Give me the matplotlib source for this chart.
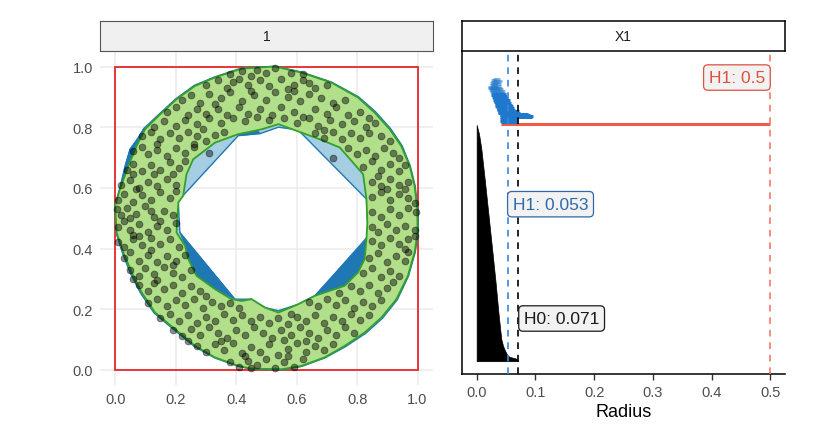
import numpy as np
import matplotlib
matplotlib.use('Agg')
import matplotlib.pyplot as plt
from matplotlib.path import Path
from matplotlib.patches import PathPatch, Polygon, Rectangle

plt.rcParams['font.family'] = ['Liberation Sans', 'DejaVu Sans']

# ---- left panel data: sampled ring points and the two shape outlines ----
ring_pts = np.array([
    (0.42, 0.985), (0.47, 0.99), (0.53, 0.995), (0.58, 0.98), (0.38, 0.975), (0.62, 0.975), (0.50, 0.98), (0.45, 0.97),
    (0.30, 0.94), (0.34, 0.955), (0.37, 0.93), (0.41, 0.96), (0.44, 0.94), (0.48, 0.955), (0.51, 0.935), (0.55, 0.96),
    (0.59, 0.94), (0.62, 0.955), (0.66, 0.93), (0.70, 0.94), (0.39, 0.95), (0.57, 0.925), (0.64, 0.945),
    (0.22, 0.89), (0.25, 0.905), (0.28, 0.88), (0.31, 0.91), (0.35, 0.895), (0.38, 0.915), (0.42, 0.885), (0.46, 0.905),
    (0.50, 0.89), (0.53, 0.915), (0.57, 0.90), (0.61, 0.885), (0.64, 0.91), (0.68, 0.895), (0.72, 0.88), (0.76, 0.89),
    (0.33, 0.875), (0.59, 0.92), (0.45, 0.92),
    (0.17, 0.85), (0.20, 0.865), (0.24, 0.84), (0.27, 0.86), (0.30, 0.845), (0.34, 0.86), (0.37, 0.84), (0.41, 0.865),
    (0.44, 0.845), (0.48, 0.86), (0.52, 0.84), (0.55, 0.865), (0.59, 0.85), (0.62, 0.835), (0.66, 0.86), (0.70, 0.845),
    (0.73, 0.865), (0.77, 0.84), (0.81, 0.85), (0.84, 0.83),
    (0.13, 0.80), (0.16, 0.82), (0.20, 0.805), (0.23, 0.825), (0.27, 0.81), (0.31, 0.83), (0.35, 0.815), (0.39, 0.83),
    (0.43, 0.82), (0.47, 0.835), (0.51, 0.825), (0.56, 0.83), (0.60, 0.815), (0.64, 0.83), (0.67, 0.805), (0.71, 0.825),
    (0.75, 0.81), (0.79, 0.82), (0.83, 0.80), (0.86, 0.815), (0.29, 0.795), (0.69, 0.79),
    (0.09, 0.77), (0.12, 0.785), (0.15, 0.76), (0.18, 0.78), (0.21, 0.765), (0.24, 0.785), (0.27, 0.77), (0.30, 0.755),
    (0.33, 0.775), (0.36, 0.785), (0.66, 0.78), (0.69, 0.765), (0.72, 0.785), (0.75, 0.76), (0.78, 0.78), (0.81, 0.765),
    (0.84, 0.78), (0.88, 0.77), (0.91, 0.755), (0.14, 0.745), (0.26, 0.745),
    (0.06, 0.72), (0.09, 0.735), (0.11, 0.71), (0.14, 0.725), (0.17, 0.705), (0.20, 0.73), (0.23, 0.715), (0.26, 0.735),
    (0.77, 0.73), (0.80, 0.71), (0.83, 0.725), (0.86, 0.705), (0.89, 0.73), (0.92, 0.715), (0.94, 0.70), (0.31, 0.715),
    (0.72, 0.70),
    (0.04, 0.66), (0.06, 0.68), (0.09, 0.655), (0.12, 0.675), (0.15, 0.66), (0.18, 0.685), (0.21, 0.665), (0.23, 0.69),
    (0.82, 0.67), (0.85, 0.69), (0.88, 0.66), (0.91, 0.68), (0.94, 0.655), (0.96, 0.675), (0.13, 0.645), (0.87, 0.64),
    (0.02, 0.61), (0.05, 0.625), (0.08, 0.60), (0.11, 0.62), (0.14, 0.605), (0.17, 0.63), (0.20, 0.61), (0.85, 0.62),
    (0.88, 0.605), (0.91, 0.63), (0.94, 0.61), (0.97, 0.62), (0.06, 0.645), (0.19, 0.645), (0.90, 0.595),
    (0.01, 0.56), (0.03, 0.58), (0.06, 0.555), (0.09, 0.575), (0.12, 0.56), (0.15, 0.585), (0.18, 0.565), (0.20, 0.59),
    (0.85, 0.57), (0.88, 0.585), (0.91, 0.56), (0.94, 0.58), (0.97, 0.565), (0.99, 0.55), (0.07, 0.595), (0.96, 0.595),
    (0.005, 0.53), (0.02, 0.51), (0.04, 0.535), (0.07, 0.515), (0.10, 0.54), (0.13, 0.505), (0.16, 0.525), (0.19, 0.51),
    (0.85, 0.52), (0.88, 0.505), (0.91, 0.53), (0.94, 0.51), (0.97, 0.535), (0.995, 0.52), (0.05, 0.50), (0.12, 0.525),
    (0.01, 0.47), (0.03, 0.49), (0.05, 0.46), (0.08, 0.48), (0.11, 0.455), (0.14, 0.475), (0.17, 0.46), (0.20, 0.485),
    (0.85, 0.47), (0.87, 0.455), (0.90, 0.48), (0.93, 0.46), (0.96, 0.475), (0.99, 0.46), (0.06, 0.445), (0.15, 0.49),
    (0.01, 0.42), (0.03, 0.405), (0.06, 0.43), (0.09, 0.41), (0.12, 0.435), (0.15, 0.415), (0.18, 0.43), (0.21, 0.405),
    (0.85, 0.425), (0.88, 0.41), (0.91, 0.435), (0.94, 0.415), (0.97, 0.43), (0.99, 0.44), (0.08, 0.44), (0.96, 0.40),
    (0.03, 0.37), (0.05, 0.39), (0.08, 0.36), (0.11, 0.38), (0.14, 0.355), (0.17, 0.375), (0.20, 0.36), (0.23, 0.38),
    (0.84, 0.37), (0.87, 0.385), (0.90, 0.355), (0.93, 0.375), (0.96, 0.36), (0.97, 0.39), (0.12, 0.395), (0.19, 0.345),
    (0.05, 0.33), (0.08, 0.31), (0.10, 0.335), (0.13, 0.315), (0.16, 0.34), (0.19, 0.32), (0.22, 0.305), (0.25, 0.33),
    (0.82, 0.32), (0.85, 0.335), (0.88, 0.305), (0.91, 0.325), (0.94, 0.31), (0.06, 0.30), (0.14, 0.295),
    (0.08, 0.28), (0.11, 0.26), (0.13, 0.285), (0.16, 0.265), (0.19, 0.28), (0.22, 0.255), (0.25, 0.275), (0.28, 0.26),
    (0.78, 0.275), (0.81, 0.26), (0.84, 0.28), (0.87, 0.255), (0.90, 0.27), (0.92, 0.29), (0.30, 0.245), (0.74, 0.255),
    (0.11, 0.22), (0.14, 0.235), (0.17, 0.21), (0.20, 0.23), (0.23, 0.215), (0.26, 0.235), (0.29, 0.205), (0.32, 0.225),
    (0.35, 0.21), (0.38, 0.22), (0.64, 0.225), (0.67, 0.21), (0.70, 0.235), (0.73, 0.215), (0.76, 0.23), (0.79, 0.205),
    (0.82, 0.225), (0.85, 0.21), (0.88, 0.23), (0.41, 0.205), (0.58, 0.185),
    (0.15, 0.17), (0.18, 0.185), (0.21, 0.16), (0.24, 0.18), (0.27, 0.155), (0.30, 0.175), (0.33, 0.16), (0.36, 0.185),
    (0.39, 0.165), (0.42, 0.18), (0.45, 0.16), (0.48, 0.175), (0.51, 0.155), (0.54, 0.17), (0.57, 0.15), (0.60, 0.175),
    (0.63, 0.16), (0.66, 0.18), (0.69, 0.155), (0.72, 0.175), (0.75, 0.16), (0.78, 0.185), (0.81, 0.165), (0.84, 0.18),
    (0.19, 0.13), (0.22, 0.11), (0.25, 0.135), (0.28, 0.115), (0.31, 0.14), (0.34, 0.12), (0.37, 0.105), (0.40, 0.13),
    (0.43, 0.115), (0.46, 0.14), (0.49, 0.12), (0.52, 0.105), (0.55, 0.13), (0.58, 0.115), (0.61, 0.14), (0.64, 0.12),
    (0.67, 0.105), (0.70, 0.13), (0.73, 0.115), (0.76, 0.14), (0.79, 0.12), (0.24, 0.095), (0.63, 0.095),
    (0.27, 0.08), (0.30, 0.06), (0.33, 0.085), (0.36, 0.065), (0.39, 0.09), (0.42, 0.055), (0.45, 0.075), (0.48, 0.06),
    (0.51, 0.085), (0.54, 0.05), (0.57, 0.07), (0.60, 0.09), (0.63, 0.06), (0.66, 0.08), (0.69, 0.065), (0.72, 0.085),
    (0.35, 0.095), (0.56, 0.10),
    (0.38, 0.025), (0.41, 0.01), (0.44, 0.03), (0.47, 0.015), (0.50, 0.035), (0.53, 0.005), (0.56, 0.025), (0.59, 0.01),
    (0.62, 0.035), (0.45, 0.005), (0.43, 0.045), (0.57, 0.045),
])

green_outer = [
    (0.529, 1.0), (0.418, 0.993), (0.33, 0.964), (0.264, 0.936), (0.203, 0.892), (0.143, 0.837), (0.099, 0.793),
    (0.071, 0.738), (0.044, 0.672), (0.016, 0.596), (0.0, 0.541), (0.005, 0.453), (0.027, 0.387), (0.055, 0.321),
    (0.088, 0.255), (0.132, 0.189), (0.198, 0.134), (0.264, 0.079), (0.33, 0.041), (0.407, 0.013), (0.451, 0.004),
    (0.551, 0.002), (0.616, 0.013), (0.693, 0.041), (0.759, 0.079), (0.825, 0.123), (0.88, 0.172), (0.93, 0.233),
    (0.968, 0.31), (0.99, 0.387), (1.0, 0.453), (0.999, 0.53), (0.99, 0.607), (0.974, 0.672), (0.946, 0.738),
    (0.908, 0.793), (0.858, 0.848), (0.803, 0.898), (0.715, 0.947), (0.616, 0.98),
]
green_inner = [
    (0.54, 0.81), (0.60, 0.788), (0.677, 0.76), (0.743, 0.733), (0.82, 0.645), (0.831, 0.563), (0.834, 0.486),
    (0.831, 0.431), (0.825, 0.365), (0.803, 0.321), (0.759, 0.277), (0.66, 0.244), (0.605, 0.216), (0.54, 0.189),
    (0.496, 0.205), (0.451, 0.233), (0.418, 0.227), (0.385, 0.233), (0.33, 0.266), (0.269, 0.31), (0.242, 0.365),
    (0.231, 0.409), (0.203, 0.453), (0.209, 0.552), (0.225, 0.574), (0.236, 0.645), (0.258, 0.694), (0.33, 0.749),
    (0.407, 0.777), (0.484, 0.793),
]
blue_outer = [
    (0.529, 1.001), (0.418, 0.995), (0.33, 0.966), (0.262, 0.938), (0.201, 0.894), (0.141, 0.839), (0.095, 0.796),
    (0.077, 0.766), (0.049, 0.727), (0.033, 0.672), (0.02, 0.617), (0.0, 0.543), (0.003, 0.452), (0.024, 0.386),
    (0.05, 0.319), (0.084, 0.253), (0.129, 0.187), (0.196, 0.131), (0.262, 0.077), (0.33, 0.039), (0.407, 0.012),
    (0.451, 0.002), (0.551, 0.0), (0.616, 0.011), (0.693, 0.039), (0.761, 0.076), (0.828, 0.12), (0.884, 0.17),
    (0.933, 0.231), (0.97, 0.309), (0.992, 0.386), (1.002, 0.453), (1.001, 0.53), (0.992, 0.607), (0.976, 0.672),
    (0.949, 0.739), (0.911, 0.795), (0.861, 0.851), (0.805, 0.9), (0.715, 0.949), (0.616, 0.982),
]
blue_inner = [
    (0.54, 0.80), (0.605, 0.791), (0.831, 0.563), (0.837, 0.436), (0.66, 0.244), (0.605, 0.216), (0.54, 0.195),
    (0.496, 0.205), (0.451, 0.233), (0.396, 0.233), (0.214, 0.453), (0.209, 0.552), (0.214, 0.563), (0.407, 0.772),
    (0.48, 0.779),
]
dark_patches = [
    [(0.099, 0.793), (0.095, 0.796), (0.077, 0.766), (0.049, 0.727), (0.033, 0.672), (0.02, 0.617), (0.016, 0.596),
     (0.044, 0.672), (0.071, 0.738)],
    [(0.214, 0.453), (0.396, 0.233), (0.33, 0.266), (0.269, 0.31), (0.242, 0.365), (0.231, 0.409)],
    [(0.831, 0.436), (0.66, 0.244), (0.759, 0.277), (0.803, 0.321), (0.825, 0.365)],
    [(0.407, 0.772), (0.48, 0.779), (0.47, 0.79), (0.42, 0.787)],
]

# ---- right panel data: barcode ----
h0_rank = [0, 3, 6, 9, 13, 23, 32, 46, 68, 103, 169, 240, 310, 380, 447, 479, 498]
h0_death = [0.071, 0.070, 0.066, 0.056, 0.052, 0.048, 0.045, 0.042, 0.040, 0.037, 0.032, 0.026, 0.020,
            0.014, 0.008, 0.004, 0.0]
h1_sig = (0.042, 0.5)   # the one long H1 bar
h1_birth = [0.041, 0.040, 0.042, 0.039, 0.041, 0.040, 0.041, 0.039, 0.040, 0.037, 0.036, 0.037, 0.035,
            0.034, 0.035, 0.033, 0.034, 0.032, 0.033, 0.031, 0.032, 0.030, 0.029, 0.028, 0.029, 0.027, 0.026,
            0.027, 0.025, 0.026, 0.024, 0.022, 0.025, 0.021, 0.023, 0.019, 0.022, 0.020, 0.024, 0.022, 0.026,
            0.023, 0.025, 0.028, 0.024, 0.027]
h1_death = [0.068, 0.066, 0.070, 0.064, 0.067, 0.094, 0.096, 0.090, 0.088, 0.074, 0.070, 0.072, 0.066,
            0.060, 0.064, 0.058, 0.062, 0.056, 0.060, 0.054, 0.058, 0.055, 0.052, 0.056, 0.050, 0.053, 0.049,
            0.052, 0.047, 0.050, 0.046, 0.044, 0.048, 0.040, 0.045, 0.038, 0.043, 0.036, 0.041, 0.035, 0.042,
            0.037, 0.040, 0.043, 0.034, 0.039]
thresh_h1 = 0.053
thresh_h0 = 0.071

RED = '#f05a47'
BLUE = '#1f78cc'


def ring_path(outer, inner):
    outer = np.asarray(outer, float)
    inner = np.asarray(inner, float)

    def area(p):
        return 0.5 * np.sum(p[:, 0] * np.roll(p[:, 1], -1) - np.roll(p[:, 0], -1) * p[:, 1])
    if np.sign(area(outer)) == np.sign(area(inner)):
        inner = inner[::-1]
    verts = np.concatenate([outer, outer[:1], inner, inner[:1]])
    codes = ([Path.MOVETO] + [Path.LINETO] * (len(outer) - 1) + [Path.CLOSEPOLY]
             + [Path.MOVETO] + [Path.LINETO] * (len(inner) - 1) + [Path.CLOSEPOLY])
    return Path(verts, codes)


fig = plt.figure(figsize=(8.3, 4.39), dpi=100)

# ---------------- left panel ----------------
ax = fig.add_axes([0.1205, 0.1207, 0.4008, 0.760])
ax.set_xlim(-0.05, 1.05)
ax.set_ylim(-0.05, 1.05)
for s in ax.spines.values():
    s.set_visible(False)
ax.set_xticks([0, 0.2, 0.4, 0.6, 0.8, 1.0])
ax.set_yticks([0, 0.2, 0.4, 0.6, 0.8, 1.0])
ax.set_xticklabels(['0.0', '0.2', '0.4', '0.6', '0.8', '1.0'])
ax.set_yticklabels(['0.0', '0.2', '0.4', '0.6', '0.8', '1.0'])
ax.tick_params(length=0, labelsize=10.5, labelcolor='#4d4d4d', pad=5)
ax.grid(True, color='#ebebeb', lw=1.1)
ax.set_axisbelow(True)

ax.add_patch(Rectangle((0, 0), 1, 1, fill=False, ec='#e8262a', lw=1.3, zorder=2))
ax.add_patch(PathPatch(ring_path(blue_outer, blue_inner), fc='#a6cee3', ec='#1f78b4', lw=1.0, zorder=3))
for p in dark_patches:
    ax.add_patch(Polygon(p, closed=True, fc='#1f78b4', ec='#1f78b4', lw=0.6, zorder=3.5))
ax.add_patch(PathPatch(ring_path(green_outer, green_inner), fc='#b2df8a', ec='#33a02c', lw=1.3, zorder=4))
ax.scatter(ring_pts[:, 0], ring_pts[:, 1], s=24, c='black', alpha=0.45, edgecolors='black',
           linewidths=0.6, zorder=5)

sax = fig.add_axes([0.1205, 0.8809, 0.4008, 0.0697])
sax.set_facecolor('#f0f0f0')
sax.set_xticks([])
sax.set_yticks([])
for s in sax.spines.values():
    s.set_color('#555555')
    s.set_linewidth(0.8)
sax.text(0.5, 0.5, '1', ha='center', va='center', fontsize=10, color='#1a1a1a')

# ---------------- right panel ----------------
bx = fig.add_axes([0.5566, 0.1458, 0.3892, 0.7358])
bx.set_xlim(-0.025, 0.525)
bx.set_ylim(-27, 654)
bx.spines['top'].set_visible(False)
bx.spines['right'].set_visible(False)
bx.spines['left'].set_linewidth(1.1)
bx.spines['bottom'].set_linewidth(1.1)
bx.set_yticks([])
bx.set_xticks([0, 0.1, 0.2, 0.3, 0.4, 0.5])
bx.set_xticklabels(['0.0', '0.1', '0.2', '0.3', '0.4', '0.5'])
bx.tick_params(axis='x', length=4, width=1, color='#333333', labelsize=10.5, labelcolor='#4d4d4d', pad=4)
bx.set_xlabel('Radius', fontsize=13, labelpad=3)

bx.fill_betweenx(h0_rank, 0, h0_death, color='black', lw=0.5, zorder=2)
bx.hlines(500, h1_sig[0], h1_sig[1], color=RED, lw=2.2, zorder=3)
n1 = len(h1_birth)
for i in range(n1):
    a = 1.0 if i < 30 else 0.55
    bx.hlines(505 + 2 * i, h1_birth[i], h1_death[i], color=BLUE, lw=2.2, alpha=a, zorder=3)

bx.axvline(thresh_h1, color='#3a87d8', lw=1.2, ls=(0, (4, 3.5)), zorder=4)
bx.axvline(thresh_h0, color='black', lw=1.2, ls=(0, (4, 3.5)), zorder=4)
bx.axvline(h1_sig[1], color='#f4786b', lw=1.2, ls=(0, (4, 3.5)), zorder=4)

box = dict(boxstyle='round,pad=0.3,rounding_size=0.25', fc='#f2f2f2', lw=0.9)
bx.text(0.491, 598, 'H1: 0.5', ha='right', va='center', fontsize=12.5, color='#e0503e',
        bbox=dict(box, ec='#e0503e'), zorder=6)
bx.text(0.0615, 331, 'H1: 0.053', ha='left', va='center', fontsize=12.5, color='#2f6aa8',
        bbox=dict(box, ec='#2f6aa8'), zorder=6)
bx.text(0.0805, 90, 'H0: 0.071', ha='left', va='center', fontsize=12.5, color='#1a1a1a',
        bbox=dict(box, ec='#1a1a1a'), zorder=6)

tax = fig.add_axes([0.5566, 0.8815, 0.3892, 0.0683])
tax.set_facecolor('white')
tax.set_xticks([])
tax.set_yticks([])
for s in tax.spines.values():
    s.set_color('black')
    s.set_linewidth(1.1)
tax.text(0.5, 0.5, 'X1', ha='center', va='center', fontsize=10, color='#1a1a1a')

fig.savefig('out.png', dpi=100)
